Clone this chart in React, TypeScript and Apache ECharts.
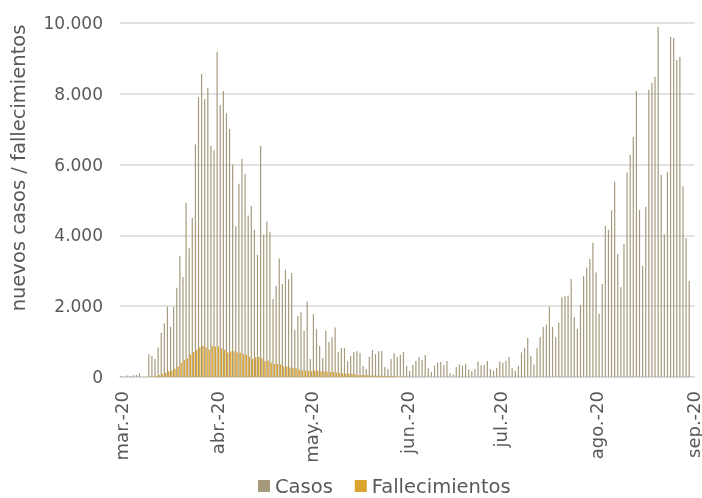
import React, { useEffect, useRef } from "react";
import * as echarts from "echarts";

const monthLabels = ["mar.-20", "abr.-20", "may.-20", "jun.-20", "jul.-20", "ago.-20", "sep.-20"];
const daysInMonth = [31, 30, 31, 30, 31, 31, 1];

const casosMar = [20, 10, 40, 30, 50, 60, 100, 0, 0, 640, 600, 510, 830, 1250, 1515, 1990, 1420, 1980, 2520, 3420, 2825, 4925, 3635, 4490, 6565, 7910, 8560, 7850, 8165, 6535, 6395];
const casosAbr = [9190, 7685, 8080, 7450, 7005, 6000, 4255, 5460, 6160, 5745, 4560, 4820, 4160, 3455, 6525, 4020, 4390, 4095, 2205, 2580, 3350, 2625, 3030, 2760, 2940, 1330, 1725, 1830, 1300, 2130];
const casosMay = [510, 1775, 1355, 875, 535, 1310, 990, 1120, 1395, 705, 820, 820, 450, 595, 705, 725, 680, 310, 225, 575, 765, 650, 725, 735, 280, 225, 510, 680, 575, 620, 705];
const casosJun = [310, 170, 340, 450, 565, 480, 620, 245, 140, 320, 405, 425, 340, 450, 105, 75, 280, 355, 320, 375, 215, 170, 225, 435, 330, 340, 450, 225, 180, 255];
const casosJul = [435, 405, 460, 575, 255, 180, 320, 695, 820, 1100, 595, 355, 820, 1130, 1410, 1480, 1985, 1410, 1130, 1535, 2250, 2280, 2300, 2770, 1685, 1355, 2035, 2855, 3090, 3335, 3795];
const casosAgo = [2955, 1790, 2625, 4265, 4160, 4710, 5520, 3475, 2535, 3760, 5775, 6280, 6790, 8080, 4720, 3135, 4810, 8115, 8305, 8485, 9890, 5715, 4030, 5790, 9615, 9585, 8955, 9040, 5385, 3925, 2720];
const casosSep = [null];

const fallMar = [0, 0, 0, 0, 0, 0, 0, 0, 5, 10, 15, 35, 55, 90, 120, 165, 185, 235, 300, 405, 470, 525, 640, 705, 770, 840, 875, 830, 780, 875, 860];
const fallAbr = [860, 810, 770, 695, 720, 730, 695, 695, 640, 630, 575, 510, 555, 565, 520, 450, 465, 405, 370, 370, 360, 300, 300, 265, 245, 245, 215, 190, 180, 180];
const fallMay = [165, 175, 175, 165, 165, 150, 145, 140, 130, 110, 105, 100, 95, 90, 70, 60, 60, 55, 50, 40, 40, 35, 35, 30, 30, 25, 25, 15, 10, 10, 5];
const fallJun = [0, 0, 0, 0, 0, 0, 0, 0, 0, 0, 0, 0, 0, 0, 0, 0, 0, 0, 0, 0, 0, 0, 0, 0, 0, 0, 0, 0, 0, 0];
const fallJul = [0, 0, 0, 0, 0, 0, 0, 0, 0, 0, 0, 0, 0, 0, 0, 0, 0, 0, 0, 0, 0, 0, 0, 0, 0, 0, 0, 0, 0, 0, 0];
const fallAgo = [0, 0, 0, 0, 0, 0, 0, 0, 0, 0, 0, 0, 0, 0, 0, 0, 0, 0, 0, 0, 0, 0, 0, 0, 0, 0, 0, 0, 0, 0, 0];
const fallSep = [null];

const yTicks = [0, 2000, 4000, 6000, 8000, 10000];

export default function App() {
  const ref = useRef<HTMLDivElement>(null);
  useEffect(() => {
    if (!ref.current) return;
    const chart = echarts.init(ref.current, null, { renderer: "svg" });
    const casos = [...casosMar, ...casosAbr, ...casosMay, ...casosJun, ...casosJul, ...casosAgo, ...casosSep];
    const fall = [...fallMar, ...fallAbr, ...fallMay, ...fallJun, ...fallJul, ...fallAgo, ...fallSep];
    const cats: string[] = [];
    const labelAt: Record<number, string> = {};
    let idx = 0;
    daysInMonth.forEach((n, m) => {
      labelAt[idx] = monthLabels[m];
      for (let d = 0; d < n; d++) {
        cats.push(monthLabels[m] + "-" + (d + 1));
        idx++;
      }
    });
    const font = "'DejaVu Sans', sans-serif";
    chart.setOption({
      animation: false,
      textStyle: { fontFamily: font },
      grid: { left: 120, right: 6, top: 23, bottom: 121, containLabel: false },
      legend: {
        left: 253,
        top: 471,
        itemWidth: 12,
        itemHeight: 12,
        itemGap: 22,
        icon: "rect",
        textStyle: { fontSize: 19.5, color: "#595959", fontFamily: font },
        data: ["Casos", "Fallecimientos"],
      },
      graphic: [
        {
          type: "text",
          x: 18,
          y: 168,
          rotation: Math.PI / 2,
          style: {
            text: "nuevos casos / fallecimientos",
            fontSize: 19.5,
            fontFamily: font,
            fill: "#595959",
            align: "center",
            verticalAlign: "middle",
          },
        },
      ],
      xAxis: {
        type: "category",
        data: cats,
        boundaryGap: true,
        axisTick: { show: false },
        axisLine: { show: true, lineStyle: { color: "#d9d9d9", width: 1.5 } },
        axisLabel: {
          interval: (i: number) => labelAt[i] !== undefined,
          formatter: (_v: string, i: number) => labelAt[i] ?? "",
          rotate: 90,
          margin: 14,
          fontSize: 18,
          color: "#595959",
          fontFamily: font,
        },
      },
      yAxis: {
        type: "value",
        min: 0,
        max: 10000,
        interval: 2000,
        axisLine: { show: false },
        axisTick: { show: false },
        splitLine: { lineStyle: { color: "#d9d9d9", width: 1.5 } },
        axisLabel: {
          margin: 17,
          fontSize: 17,
          color: "#595959",
          fontFamily: font,
          formatter: (v: number) => (yTicks.includes(v) ? v.toLocaleString("de-DE") : ""),
        },
      },
      series: [
        {
          name: "Casos",
          type: "bar",
          data: casos,
          barWidth: 1.2,
          barGap: "0%",
          itemStyle: { color: "#a59b7c" },
        },
        {
          name: "Fallecimientos",
          type: "bar",
          data: fall,
          barWidth: 1.4,
          barGap: "0%",
          itemStyle: { color: "#dca42e" },
        },
      ],
    });
    return () => chart.dispose();
  }, []);
  return <div ref={ref} style={{ position: "fixed", left: 0, top: 0, width: 702, height: 498 }} />;
}
